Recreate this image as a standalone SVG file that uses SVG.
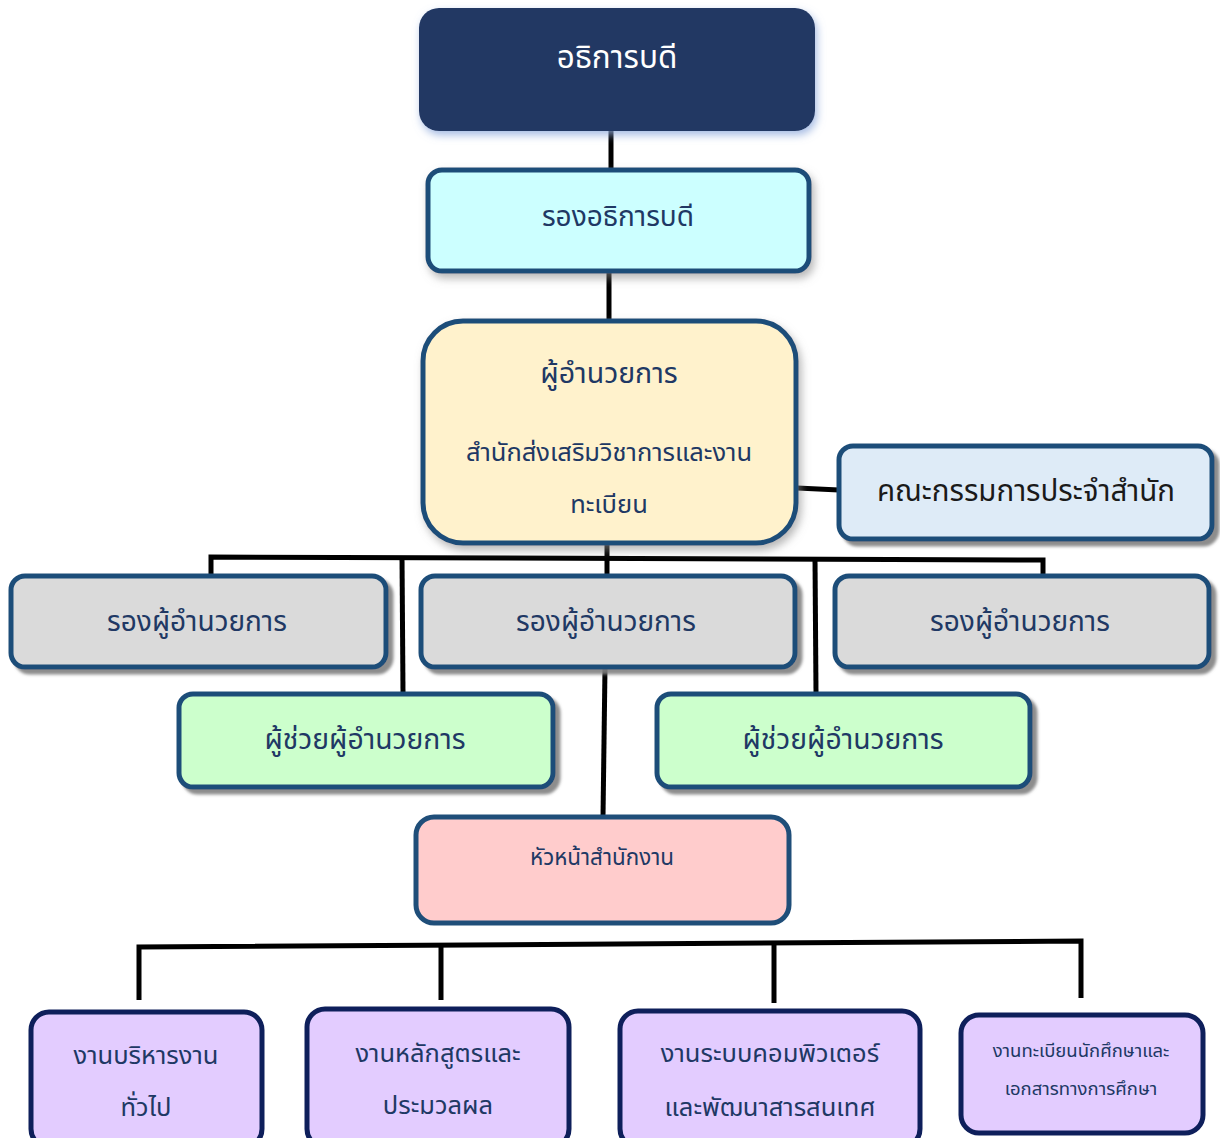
<svg xmlns="http://www.w3.org/2000/svg" width="1220" height="1138" viewBox="0 0 1220 1138">
<defs>
<filter id="glow" x="-10%" y="-20%" width="120%" height="150%"><feDropShadow dx="2" dy="4" stdDeviation="4" flood-color="#8faadc" flood-opacity="0.8"/></filter>
<filter id="soft" x="-10%" y="-20%" width="120%" height="150%"><feDropShadow dx="3" dy="5" stdDeviation="4" flood-color="#888" flood-opacity="0.6"/></filter>
<filter id="hard" x="-10%" y="-20%" width="120%" height="150%"><feDropShadow dx="5" dy="5" stdDeviation="1.5" flood-color="#808080" flood-opacity="0.9"/></filter>
</defs>
<style>
.t{font-family:"Noto Sans Thai","Noto Sans Thai UI","Noto Sans",sans-serif;fill:#203864;text-anchor:middle}
.b{stroke:#1F4E79;stroke-width:5}
.p{stroke:#0E1F5B;stroke-width:5;fill:#E3CCFF}
.c{stroke:#000;stroke-width:5;fill:none}
</style>
<rect width="1220" height="1138" fill="#fff"/>
<g id="connectors">
<line class="c" x1="611" y1="130" x2="611" y2="170"/>
<line class="c" x1="609" y1="270" x2="609" y2="322"/>
<line class="c" x1="797" y1="488" x2="839" y2="490"/>
<polyline class="c" points="211,575 211,557 1043,560 1043,575"/>
<line class="c" x1="607" y1="543" x2="607" y2="575"/>
<line class="c" x1="402" y1="557" x2="403" y2="693"/>
<line class="c" x1="815" y1="559" x2="816" y2="693"/>
<line class="c" x1="605" y1="668" x2="603" y2="817"/>
<polyline class="c" points="139,1000 139,947 1081,941 1081,998"/>
<line class="c" x1="441" y1="946" x2="441" y2="1000"/>
<line class="c" x1="774" y1="945" x2="774" y2="1003"/>
</g>
<g id="n1"><rect x="419" y="8" width="396" height="123" rx="20" fill="#203864" filter="url(#glow)"/><text class="t" x="617" y="68" font-size="31.5" style="fill:#fff">อธิการบดี</text></g>
<g id="n2"><rect class="b" x="428" y="170" width="381" height="101" rx="14" fill="#CCFFFF" filter="url(#soft)"/><text class="t" x="618" y="226" font-size="28">รองอธิการบดี</text></g>
<g id="n3"><rect class="b" x="423" y="321" width="373" height="222" rx="40" fill="#FFF2CC" filter="url(#soft)"/><text class="t" x="609" y="383" font-size="28.5">ผู้อำนวยการ</text><text class="t" x="609" y="461" font-size="25.5">สำนักส่งเสริมวิชาการและงาน</text><text class="t" x="609" y="513" font-size="25.5">ทะเบียน</text></g>
<g id="n4"><rect class="b" x="839" y="446" width="373" height="93" rx="14" fill="#DEEBF7" filter="url(#hard)"/><text class="t" x="1026" y="501" font-size="29.5" style="fill:#1a1a1a">คณะกรรมการประจำสำนัก</text></g>
<g id="n5"><rect class="b" x="11" y="576" width="375" height="91" rx="14" fill="#DADADA" filter="url(#hard)"/><text class="t" x="197" y="631" font-size="28">รองผู้อำนวยการ</text></g>
<g id="n6"><rect class="b" x="421" y="576" width="374" height="91" rx="14" fill="#DADADA" filter="url(#hard)"/><text class="t" x="606" y="631" font-size="28">รองผู้อำนวยการ</text></g>
<g id="n7"><rect class="b" x="835" y="576" width="374" height="91" rx="14" fill="#DADADA" filter="url(#hard)"/><text class="t" x="1020" y="631" font-size="28">รองผู้อำนวยการ</text></g>
<g id="n8"><rect class="b" x="179" y="694" width="374" height="93" rx="14" fill="#CCFFCC" filter="url(#hard)"/><text class="t" x="365" y="749" font-size="28.3">ผู้ช่วยผู้อำนวยการ</text></g>
<g id="n9"><rect class="b" x="657" y="694" width="373" height="93" rx="14" fill="#CCFFCC" filter="url(#hard)"/><text class="t" x="843" y="749" font-size="28.3">ผู้ช่วยผู้อำนวยการ</text></g>
<g id="n10"><rect class="b" x="416" y="817" width="373" height="106" rx="18" fill="#FFCCCC"/><text class="t" x="602" y="865" font-size="22.4">หัวหน้าสำนักงาน</text></g>
<g id="n11"><rect class="p" x="31" y="1012" width="231" height="135" rx="18"/><text class="t" x="146" y="1064" font-size="25.5">งานบริหารงาน</text><text class="t" x="146" y="1116" font-size="25.5">ทั่วไป</text></g>
<g id="n12"><rect class="p" x="307" y="1009" width="262" height="138" rx="18"/><text class="t" x="438" y="1062" font-size="25.5">งานหลักสูตรและ</text><text class="t" x="438" y="1114" font-size="25.5">ประมวลผล</text></g>
<g id="n13"><rect class="p" x="620" y="1011" width="300" height="136" rx="18"/><text class="t" x="770" y="1062" font-size="25.5">งานระบบคอมพิวเตอร์</text><text class="t" x="770" y="1116" font-size="25.5">และพัฒนาสารสนเทศ</text></g>
<g id="n14"><rect class="p" x="961" y="1015" width="242" height="118" rx="18"/><text class="t" x="1081" y="1057" font-size="18.5">งานทะเบียนนักศึกษาและ</text><text class="t" x="1081" y="1095" font-size="18.5">เอกสารทางการศึกษา</text></g>
</svg>
